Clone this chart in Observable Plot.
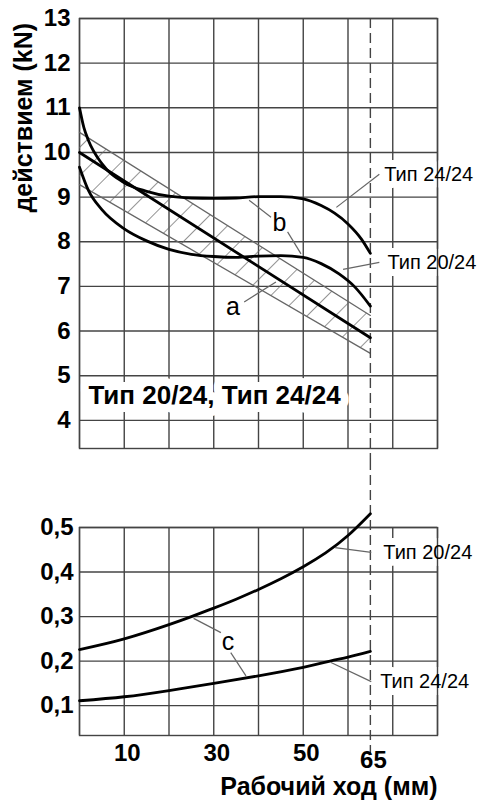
<!DOCTYPE html>
<html><head><meta charset="utf-8">
<script src="https://cdn.jsdelivr.net/npm/d3@7"></script>
<script src="https://cdn.jsdelivr.net/npm/@observablehq/plot@0.6"></script>
<style>
body{margin:0;background:#fff;}
#chart{width:478px;height:802px;}
#chart svg{display:block;overflow:visible;}
</style></head><body><div id="chart"></div>
<script>
// ---- data ----
const gridX = [0,10,20,30,40,50,60,70,80];
const topYTicks = [4,5,6,7,8,9,10,11,12,13];
const botYTicks = [0.1,0.2,0.3,0.4,0.5];
const xTickLabels = [10,30,50];
const strokeLimit = [65];

const top24X = [0,1,2,5,10,15,20,25,30,35,40,45,50,54,57,60,63,65];
const top24Y = [11,10.55,10.27,9.75,9.32,9.13,9.02,8.98,8.97,8.98,9.01,9.01,8.96,8.81,8.64,8.4,8.06,7.74];
const top20X = [0,2,5,10,15,20,25,30,35,40,45,50,54,58,61.5,65];
const top20Y = [9.67,9.15,8.72,8.29,8.02,7.83,7.72,7.67,7.65,7.68,7.69,7.65,7.51,7.28,6.99,6.56];
const lineAX = [0,65];
const lineAY = [10,5.85];
const bandX = [0,65];
const bandLo = [9.28,5.5];
const bandHi = [10.45,6.35];

const bot20X = [0,10,20,25,30,35,40,45,50,55,60,65];
const bot20Y = [0.226,0.25,0.282,0.3,0.319,0.339,0.361,0.385,0.412,0.443,0.482,0.531];
const bot24X = [0,10,20,30,40,50,56,60,65];
const bot24Y = [0.111,0.12,0.134,0.15,0.167,0.186,0.2,0.209,0.222];

const yTitle = ["действием (kN)"];
const xTitle = ["Рабочий ход (мм)"];
const topBoxLabel = [{t:"Тип 20/24, Тип 24/24", x:2.0, y:4.56}];
const topLabels = [{t:"Тип 24/24", x:68.1, y:9.51},{t:"Тип 20/24", x:68.8, y:7.54}];
const topLetters = [{t:"b", x:44.7, y:8.43},{t:"a", x:34.3, y:6.53}];
const topLeaders = [
  {x1:57.4,y1:8.77,x2:67.0,y2:9.51},
  {x1:58.9,y1:7.38,x2:67.0,y2:7.54},
  {x1:37.9,y1:8.93,x2:42.8,y2:8.55},
  {x1:46.5,y1:8.22,x2:49.5,y2:7.73},
  {x1:36.8,y1:6.65,x2:43.9,y2:7.10}
];
const botLabels = [{t:"Тип 20/24", x:67.9, y:0.444},{t:"Тип 24/24", x:67.2, y:0.154}];
const botLetters = [{t:"c", x:33.2, y:0.244}];
const botLeaders = [
  {x1:57.1,y1:0.455,x2:65.2,y2:0.444},
  {x1:56.2,y1:0.197,x2:65.2,y2:0.154},
  {x1:25.5,y1:0.296,x2:31.6,y2:0.264},
  {x1:33.8,y1:0.219,x2:37.2,y2:0.167}
];

// ---- helpers ----
const pts = (xs, ys) => xs.map((x,i) => ({x, y: ys[i]}));
const band = bandX.map((x,i) => ({x, lo: bandLo[i], hi: bandHi[i]}));
const F = '"Liberation Sans", Arial, Helvetica, sans-serif';
const GRID = "#444", GW = 1.4;
const style = {fontFamily: F, fontSize: "24px", fontWeight: "bold", color: "#000", background: "transparent", overflow: "visible"};

function halo(data, size, weight, sw) {
  return Plot.text(data, {x:"x", y:"y", text:"t", textAnchor:"start", fontSize:size, fontWeight:weight, fill:"white", stroke:"white", strokeWidth:sw, strokeLinejoin:"round"});
}
function labelText(data, size, weight, anchor="start") {
  return Plot.text(data, {x:"x", y:"y", text:"t", textAnchor:anchor, fontSize:size, fontWeight:weight, fill:"black"});
}

// ---- top chart ----
const topPlot = Plot.plot({
  width: 478, height: 460,
  marginLeft: 79, marginRight: 41, marginTop: 18, marginBottom: 12,
  x: {domain: [0, 80], axis: null},
  y: {domain: [3.37, 13], ticks: topYTicks, tickSize: 0, tickPadding: 9, label: null},
  style,
  marks: [
    Plot.ruleX(gridX, {x: d => d, stroke: GRID, strokeWidth: GW}),
    Plot.ruleY(topYTicks, {y: d => d, stroke: GRID, strokeWidth: GW}),
    halo(topLabels, 20, "normal", 14),
    halo(topBoxLabel, 26, "bold", 16),
    Plot.frame({stroke: GRID, strokeWidth: GW}),
    Plot.areaY(band, {x: "x", y1: "lo", y2: "hi", fill: "url(#hatch)"}),
    Plot.line(band, {x: "x", y: "lo", stroke: "#666", strokeWidth: 1.3}),
    Plot.line(band, {x: "x", y: "hi", stroke: "#666", strokeWidth: 1.3}),
    Plot.ruleX(strokeLimit, {x: d => d, stroke: GRID, strokeWidth: 1.4, strokeDasharray: "10,5", insetBottom: -12}),
    Plot.line(pts(lineAX, lineAY), {x: "x", y: "y", stroke: "black", strokeWidth: 2.8}),
    Plot.line(pts(top24X, top24Y), {x: "x", y: "y", stroke: "black", strokeWidth: 2.8, curve: "monotone-x"}),
    Plot.line(pts(top20X, top20Y), {x: "x", y: "y", stroke: "black", strokeWidth: 2.8, curve: "monotone-x"}),
    Plot.link(topLeaders, {x1: "x1", y1: "y1", x2: "x2", y2: "y2", stroke: "#666", strokeWidth: 1.2}),
    labelText(topLabels, 20, "normal"),
    labelText(topBoxLabel, 26, "bold"),
    labelText(topLetters, 25, "normal", "middle"),
    Plot.text(yTitle, {text: d => d, frameAnchor: "top-left", dx: -56, dy: 194, rotate: -90, textAnchor: "start", lineAnchor: "middle", fontSize: 25, fontWeight: "bold", fill: "black"})
  ]
});

// hatch pattern
const defs = d3.select(topPlot).insert("defs", ":first-child");
const pat = defs.append("pattern").attr("id", "hatch").attr("patternUnits", "userSpaceOnUse")
  .attr("width", 20).attr("height", 20).attr("patternTransform", "rotate(45)");
pat.append("line").attr("x1", 0).attr("y1", 0).attr("x2", 0).attr("y2", 20)
  .attr("stroke", "#666").attr("stroke-width", 1.4);

// ---- bottom chart ----
const botPlot = Plot.plot({
  width: 478, height: 342,
  marginLeft: 79, marginRight: 41, marginTop: 67, marginBottom: 67,
  x: {domain: [0, 80], axis: null},
  y: {domain: [0.033, 0.5], ticks: botYTicks, tickSize: 0, tickPadding: 6, label: null, tickFormat: d => d.toFixed(1).replace(".", ",")},
  style,
  marks: [
    Plot.ruleX(gridX, {x: d => d, stroke: GRID, strokeWidth: GW}),
    Plot.ruleY(botYTicks, {y: d => d, stroke: GRID, strokeWidth: GW}),
    halo(botLabels, 20, "normal", 14),
    Plot.frame({stroke: GRID, strokeWidth: GW}),
    Plot.ruleX(strokeLimit, {x: d => d, stroke: GRID, strokeWidth: 1.4, strokeDasharray: "10,5", insetTop: -67, insetBottom: -22}),
    Plot.line(pts(bot20X, bot20Y), {x: "x", y: "y", stroke: "black", strokeWidth: 2.8, curve: "natural"}),
    Plot.line(pts(bot24X, bot24Y), {x: "x", y: "y", stroke: "black", strokeWidth: 2.8, curve: "natural"}),
    Plot.link(botLeaders, {x1: "x1", y1: "y1", x2: "x2", y2: "y2", stroke: "#666", strokeWidth: 1.2}),
    labelText(botLabels, 20, "normal"),
    labelText(botLetters, 25, "normal", "middle"),
    Plot.text(xTickLabels, {x: d => d, text: d => String(d), frameAnchor: "bottom", dx: 3, dy: 18, lineAnchor: "middle", fontSize: 24, fontWeight: "bold", fill: "black"}),
    Plot.text(strokeLimit, {x: d => d, text: d => String(d), frameAnchor: "bottom", dx: 3, dy: 25, lineAnchor: "middle", fontSize: 24, fontWeight: "bold", fill: "black"}),
    Plot.text(xTitle, {text: d => d, frameAnchor: "bottom-right", dy: 51, textAnchor: "end", lineAnchor: "middle", fontSize: 25, fontWeight: "bold", fill: "black"})
  ]
});

const root = document.getElementById("chart");
root.appendChild(topPlot);
root.appendChild(botPlot);
</script>
</body></html>
